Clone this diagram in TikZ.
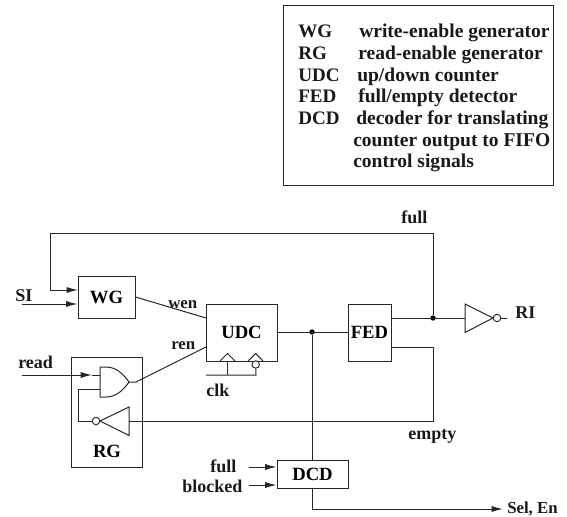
\documentclass[tikz,border=0pt]{standalone}
\usepackage{fontspec}
\setmainfont{Liberation Serif}
\usetikzlibrary{arrows.meta,calc}
\tikzset{
 wire/.style={line width=0.75pt,black!85},
 arr/.style={wire,-{Latex[length=8.5pt,width=4.5pt]}},
 box/.style={draw,black!85,line width=0.75pt,inner sep=0pt,text=black},
 lbl/.style={inner sep=0pt,anchor=base west,font=\fontsize{13.5pt}{15pt}\bfseries\selectfont,text=black!90},
 lblsm/.style={lbl,font=\fontsize{12.6pt}{14pt}\bfseries\selectfont},
 leglbl/.style={lbl,font=\fontsize{14.3pt}{16pt}\bfseries\selectfont},
 legdes/.style={lbl,font=\fontsize{14.65pt}{16pt}\bfseries\selectfont},
 boxlbl/.style={font=\fontsize{14pt}{16pt}\bfseries\selectfont},
 bub/.style={circle,draw,black!85,line width=0.7pt,fill=white,minimum size=5.6pt,inner sep=0pt},
 jdot/.style={circle,fill=black,minimum size=4pt,inner sep=0pt},
}
\newcommand{\mkbox}[6]{\node[box,boxlbl,minimum width=#3*0.75pt,minimum height=#4*0.75pt] (#5) at (#1,#2) {#6};}
\begin{document}
\begin{tikzpicture}[x=0.75pt,y=-0.75pt]
\useasboundingbox (0,0) rectangle (567,517);
% legend
\node[box,minimum width=202.5pt,minimum height=134.25pt] (legend) at (418,95.5) {};
\foreach \nm/\xa/\ya/\t in {a/298/38/WG,b/298/60/RG,c/298/82/UDC,d/298/103/FED,e/298/124/DCD}
 \node[leglbl] (leg\nm) at (\xa,\ya) {\t};
\node[legdes] (desa) at (359,38) {write-enable generator};
\node[legdes] (desb) at (358,60) {read-enable generator};
\node[legdes] (desc) at (357,82) {up/down counter};
\node[legdes] (desd) at (358,103) {full/empty detector};
\node[legdes] (dese) at (356,124) {decoder for translating};
\node[legdes] (desf) at (353,146) {counter output to FIFO};
\node[legdes] (desg) at (353,167) {control signals};
% boxes
\mkbox{106.5}{297}{57}{42}{WG}{WG}
\mkbox{241.5}{332.5}{71}{57}{UDC}{UDC}
\mkbox{369.5}{332.5}{43}{57}{FED}{FED}
\mkbox{312.5}{474}{71}{28}{DCD}{DCD}
\node[box,minimum width=52.8pt,minimum height=82.5pt] (RG) at (107,412.3) {};
\node[boxlbl] (RGt) at (107,451) {RG};
% labels
\node[lbl] (si) at (15,301) {SI};
\node[lblsm] (wen) at (168,308) {wen};
\node[lblsm] (ren) at (171,349) {ren};
\node[lbl] (readl) at (18,368) {read};
\node[lbl] (clk) at (206,396) {clk};
\node[lbl] (fulla) at (401,223) {full};
\node[lbl] (empty) at (408,439) {empty};
\node[lbl] (ri) at (515,318) {RI};
\node[lbl] (fullb) at (210,472) {full};
\node[lbl] (blocked) at (182,492) {blocked};
\node[lblsm] (sel) at (507,513) {Sel, En};
% coordinates
\coordinate (siS) at (22,304);
\coordinate (siE) at (WG.west |- siS);
\coordinate (fbE) at (78,290);
\coordinate (fbA) at (50,290);
\coordinate (fbB) at (50,233);
\coordinate (fbC) at (433,233);
% dots
\node[jdot] (j1) at (433,318) {};
\node[jdot] (j2) at (312,332) {};
% WG inputs
\draw[arr] (fbB) -- (fbA) -- (fbE);
\draw[wire] (j1) -- (fbC) -- (fbB);
\draw[arr] (siS) -- (siE);
% wen / ren
\coordinate (wgo) at (135.5,297);
\coordinate (udcw) at (206,318);
\coordinate (udcr) at (206,347);
\draw[wire] (wgo) -- (udcw);
% gate
\coordinate (gTL) at (100,367);
\coordinate (gBL) at (100,397);
\coordinate (gO) at (129,382);
\draw[wire] (gTL) -- (gBL) -- (106,397) .. controls (117,397) and (124,389) .. (gO) .. controls (124,375) and (117,367) .. (106,367) -- cycle;
\coordinate (gO2) at (136,382);
\draw[wire] (gO) -- (gO2) -- (udcr);
% read
\coordinate (rdS) at (22,375);
\coordinate (rdM) at (92,375);
\coordinate (rdE) at (100,375);
\draw[arr] (rdS) -- (rdM);
\draw[wire] (rdM) -- (rdE);
% RG inverter
\coordinate (t1) at (129,407);
\coordinate (t2) at (129,435.5);
\coordinate (t3) at (100,421);
\draw[wire] (t1) -- (t2) -- (t3) -- cycle;
\node[bub] (b1) at (96,421) {};
\coordinate (e0) at (129,421);
\coordinate (e1) at (433,421);
\coordinate (e2) at (433,347);
\coordinate (e3) at (391,347);
\draw[wire] (e0) -- (e1) -- (e2) -- (e3);
\coordinate (l1) at (78.5,421);
\coordinate (l2) at (78.5,389);
\coordinate (l3) at (100,389);
\draw[wire] (b1) -- (l1) -- (l2) -- (l3);
% FED to RI
\coordinate (i1) at (465,304);
\coordinate (i2) at (465,332.5);
\coordinate (i3) at (493,318);
\coordinate (i4) at (465,318);
\coordinate (i0) at (391,318);
\draw[wire] (i0) -- (i4);
\draw[wire] (i1) -- (i2) -- (i3) -- cycle;
\node[bub] (b2) at (497,318) {};
\coordinate (rie) at (507,318);
\draw[wire] (b2) -- (rie);
% counter out
\coordinate (c0) at (277,332);
\coordinate (c1) at (348,332);
\draw[wire] (c0) -- (c1);
\draw[wire] (j2) -- (j2 |- DCD.north);
\coordinate (o1) at (312,488);
\coordinate (o2) at (312,509);
\coordinate (o3) at (503,509);
\draw[arr] (o1) -- (o2) -- (o3);
% clock
\coordinate (ck1) at (206,375);
\coordinate (ck2) at (256,375);
\coordinate (ck3) at (227.5,375);
\coordinate (ck4) at (227.5,361);
\draw[wire] (220,361) -- (227.5,353.5) -- (235,361);
\draw[wire] (248,361) -- (255.7,353.5) -- (263,361);
\node[bub] (b3) at (255.7,364.5) {};
\draw[wire] (ck1) -- (ck2) -- (b3);
\draw[wire] (ck3) -- (ck4);
% DCD inputs
\coordinate (fi) at (249,467);
\coordinate (bi) at (249,485);
\draw[arr] (fi) -- (fi -| DCD.west);
\draw[arr] (bi) -- (bi -| DCD.west);
\end{tikzpicture}
\end{document}
